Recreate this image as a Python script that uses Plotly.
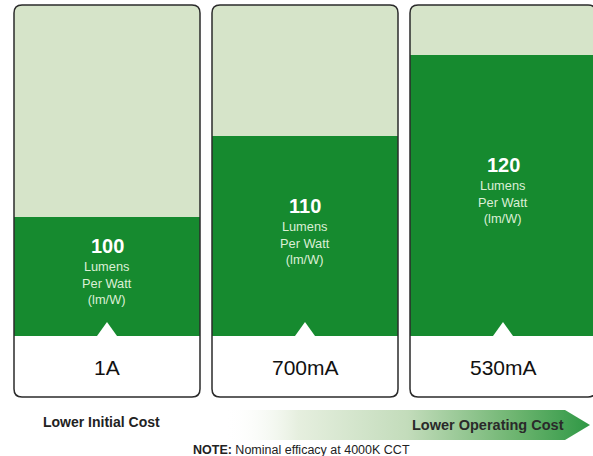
import plotly.graph_objects as go

# ---- data ----
currents = ["1A", "700mA", "530mA"]
efficacy = [100, 110, 120]
unit_text = ["Lumens", "Per Watt", "(lm/W)"]
left_caption = "Lower Initial Cost"
right_caption = "Lower Operating Cost"
note_bold = "NOTE:"
note_rest = "Nominal efficacy at 4000K CCT"

# ---- layout helpers (pixel <-> data) ----
W, H = 593, 456
PX_PER_UNIT = 8.1      # vertical pixels per lm/W
BASE = 85.3            # lm/W value at the bottom of the green bars
BASE_PX = 336          # pixel row of the bottom of the green bars
X_PX_PER = 198         # pixels between panel centres
X0_PX = 107            # pixel column of first panel centre
BAR_W = 186 / X_PX_PER

def ypx(p):
    return BASE + (BASE_PX - p) / PX_PER_UNIT

def xpx(p):
    return (p - X0_PX) / X_PX_PER

FONT = "Liberation Sans, Arial, Helvetica, sans-serif"
GREEN = "#168a2f"
LIGHT = "#d6e4c9"

xs = list(range(len(currents)))
top_v = ypx(5)
bot_v = ypx(397)

fig = go.Figure()

# light background of each panel
fig.add_trace(go.Bar(x=xs, y=[top_v - BASE] * len(xs), base=BASE, width=BAR_W,
                     marker=dict(color=LIGHT, line=dict(width=0), cornerradius=8),
                     hoverinfo="skip"))
# white label box of each panel
fig.add_trace(go.Bar(x=xs, y=[bot_v - BASE] * len(xs), base=BASE, width=BAR_W,
                     marker=dict(color="white", line=dict(width=0), cornerradius=8),
                     hoverinfo="skip"))
# green efficacy bars
fig.add_trace(go.Bar(x=xs, y=[v - BASE for v in efficacy], base=BASE, width=BAR_W,
                     marker=dict(color=GREEN, line=dict(width=0)),
                     hoverinfo="skip"))

# small white notch at the bottom of each green bar
tri_w = 10 / X_PX_PER
tri_h = 14 / PX_PER_UNIT
for i in xs:
    fig.add_trace(go.Scatter(x=[i - tri_w, i, i + tri_w, i - tri_w],
                             y=[BASE, BASE + tri_h, BASE, BASE],
                             mode="lines", fill="toself", fillcolor="white",
                             line=dict(width=0, color="white"), hoverinfo="skip"))

# rounded outline of each panel
rx = 8 / X_PX_PER
ry = 8 / PX_PER_UNIT
shapes = []
for i in xs:
    l, r = i - BAR_W / 2, i + BAR_W / 2
    t, b = top_v, bot_v
    path = (f"M {l+rx},{t} L {r-rx},{t} Q {r},{t} {r},{t-ry} "
            f"L {r},{b+ry} Q {r},{b} {r-rx},{b} "
            f"L {l+rx},{b} Q {l},{b} {l},{b+ry} "
            f"L {l},{t-ry} Q {l},{t} {l+rx},{t} Z")
    shapes.append(dict(type="path", path=path, xref="x", yref="y",
                       line=dict(color="#2b2b2b", width=1.5), layer="above"))

# gradient arrow
ax_px = [225, 565, 590, 565, 225, 225]
ay_px = [410, 410, 425, 440, 440, 410]
fig.add_trace(go.Scatter(x=[xpx(p) for p in ax_px], y=[ypx(p) for p in ay_px],
                         mode="lines", fill="toself",
                         fillgradient=dict(type="horizontal",
                                           colorscale=[[0, "rgba(255,255,255,0)"],
                                                       [0.2, "#e6efdf"],
                                                       [0.5, "#c3dcbb"],
                                                       [0.8, "#6cb46f"],
                                                       [1, "#2f9845"]]),
                         line=dict(width=0), hoverinfo="skip"))

annotations = []
for i, (cur, v) in enumerate(zip(currents, efficacy)):
    mid = (BASE + v) / 2
    annotations.append(dict(x=i, y=mid, yshift=30, text=f"<b>{v}</b>", showarrow=False,
                            font=dict(family=FONT, size=20, color="white")))
    annotations.append(dict(x=i, y=mid, yshift=-7, text="<br>".join(unit_text),
                            showarrow=False,
                            font=dict(family=FONT, size=12.8, color="#dcefd6")))
    annotations.append(dict(x=i, y=ypx(367), text=cur, showarrow=False,
                            font=dict(family=FONT, size=21, color="#111111")))

annotations.append(dict(x=xpx(101), y=ypx(422), text=f"<b>{left_caption}</b>",
                        showarrow=False, font=dict(family=FONT, size=14, color="#222222")))
annotations.append(dict(x=xpx(488), y=ypx(425), text=f"<b>{right_caption}</b>",
                        showarrow=False, font=dict(family=FONT, size=14.5, color="#2a2a2a")))
annotations.append(dict(x=xpx(301), y=ypx(450), text=f"<b>{note_bold}</b> {note_rest}",
                        showarrow=False, font=dict(family=FONT, size=12.5, color="#222222")))

fig.update_layout(
    width=W, height=H,
    margin=dict(l=0, r=0, t=0, b=0),
    paper_bgcolor="white", plot_bgcolor="white",
    barmode="overlay", showlegend=False, hovermode=False,
    xaxis=dict(range=[xpx(0), xpx(W)], visible=False, fixedrange=True),
    yaxis=dict(range=[ypx(H), ypx(0)], visible=False, fixedrange=True),
    shapes=shapes, annotations=annotations,
)

fig.write_html("out.html", config={"displayModeBar": False})
